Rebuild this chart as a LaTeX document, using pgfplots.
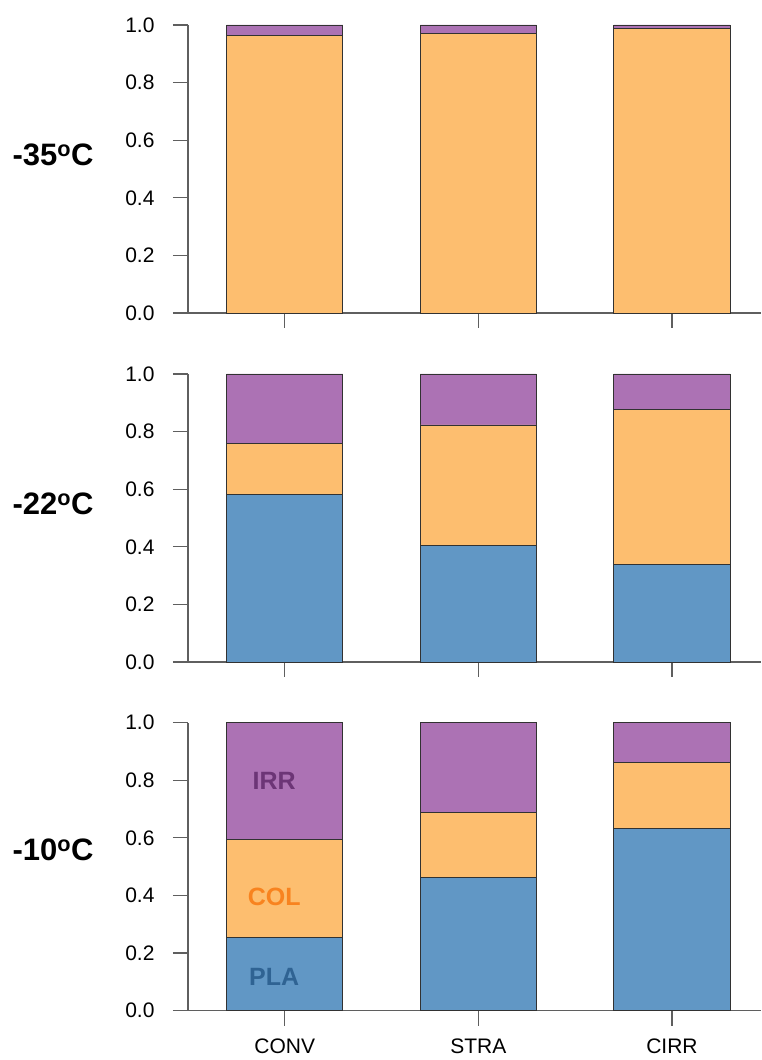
\documentclass[border=0pt]{standalone}
\usepackage{fontspec}
\setmainfont{Liberation Sans}
\usepackage{pgfplots}
\pgfplotsset{compat=1.18}
\definecolor{cpla}{RGB}{97,151,197}
\definecolor{ccol}{RGB}{253,190,111}
\definecolor{cirr}{RGB}{172,114,180}
\definecolor{tpla}{RGB}{47,99,147}
\definecolor{tcol}{RGB}{248,131,31}
\definecolor{tirr}{RGB}{108,53,118}
\definecolor{edge}{RGB}{50,50,50}
\definecolor{axc}{RGB}{95,95,95}
\pgfplotsset{panel/.style={
  width=573pt, height=288pt, scale only axis,
  anchor=south west,
  xmin=-0.5, xmax=2.46, ymin=0, ymax=1,
  axis x line=bottom, axis y line=left,
  axis line style={-, draw=axc, line width=1.2pt},
  every tick/.style={draw=axc, line width=1.2pt},
  major tick length=15pt, tick align=outside,
  xtick={0,1,2}, ytick={0,0.2,0.4,0.6,0.8,1.0},
  ybar stacked, bar width=0.6,
  yticklabel style={xshift=-15pt, /pgf/number format/.cd, fixed, fixed zerofill, precision=1, assume math mode=true},
  xticklabel style={yshift=-12pt, inner sep=1pt},
  tick label style={font=\fontsize{21}{25}\selectfont},
  every axis plot/.append style={draw=edge, line width=0.9pt},
  clip=false,
}}
\begin{document}
\begin{tikzpicture}[x=1pt,y=1pt]
\path[use as bounding box] (0,0) rectangle (761,1060);
% -35C
\begin{axis}[panel, at={(188pt,747pt)}, xticklabels={}]
\addplot[fill=ccol] coordinates {(0,0.964) (1,0.970) (2,0.988)};
\addplot[fill=cirr] coordinates {(0,0.036) (1,0.030) (2,0.012)};
\node[anchor=west, font=\bfseries\fontsize{31}{36}\selectfont] at (rel axis cs:-0.3124,0.55) {-35\textsuperscript{o}C};
\end{axis}
% -22C
\begin{axis}[panel, at={(188pt,398pt)}, xticklabels={}]
\addplot[fill=cpla] coordinates {(0,0.582) (1,0.406) (2,0.337)};
\addplot[fill=ccol] coordinates {(0,0.177) (1,0.417) (2,0.541)};
\addplot[fill=cirr] coordinates {(0,0.241) (1,0.177) (2,0.122)};
\node[anchor=west, font=\bfseries\fontsize{31}{36}\selectfont] at (rel axis cs:-0.3124,0.55) {-22\textsuperscript{o}C};
\end{axis}
% -10C
\begin{axis}[panel, at={(188pt,49.3pt)}, xticklabels={CONV,STRA,CIRR}]
\addplot[fill=cpla] coordinates {(0,0.253) (1,0.462) (2,0.632)};
\addplot[fill=ccol] coordinates {(0,0.343) (1,0.227) (2,0.229)};
\addplot[fill=cirr] coordinates {(0,0.404) (1,0.311) (2,0.139)};
\node[anchor=west, font=\bfseries\fontsize{31}{36}\selectfont] at (rel axis cs:-0.3124,0.56) {-10\textsuperscript{o}C};
\end{axis}
% overlay for in-bar labels
\begin{axis}[width=573pt, height=288pt, scale only axis, anchor=south west,
  at={(188pt,49.3pt)}, xmin=-0.5, xmax=2.46, ymin=0, ymax=1,
  hide axis, clip=false]
\node[font=\bfseries\fontsize{25}{30}\selectfont, text=tirr] at (axis cs:-0.055,0.797) {IRR};
\node[font=\bfseries\fontsize{25}{30}\selectfont, text=tcol] at (axis cs:-0.055,0.395) {COL};
\node[font=\bfseries\fontsize{25}{30}\selectfont, text=tpla] at (axis cs:-0.055,0.117) {PLA};
\end{axis}
\end{tikzpicture}
\end{document}
